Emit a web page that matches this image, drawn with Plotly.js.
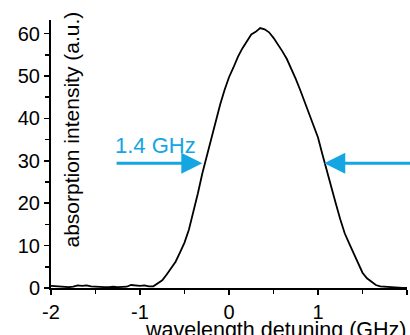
<!DOCTYPE html>
<html>
<head>
<meta charset="utf-8">
<script src="https://cdn.plot.ly/plotly-3.0.1.min.js"></script>
<style>
html,body{margin:0;padding:0;background:#fff;overflow:hidden;}
#chart{width:410px;height:335px;}
</style>
</head>
<body>
<div id="chart"></div>
<script>
// detuning (GHz), step 0.05 from -2 to 2
const detuning = [];
for (let i = 0; i <= 80; i++) detuning.push(Math.round((-2 + i * 0.05) * 100) / 100);
// absorption intensity (a.u.)
const intensity = [
  0.5, 0.4, 0.3, 0.2, 0.2, 0.3, 0.6, 0.5, 0.6, 0.4,
  0.3, 0.2, 0.2, 0.2, 0.3, 0.2, 0.2, 0.3, 0.7, 0.6,
  0.5, 0.6, 0.4, 0.4, 1.2, 1.8, 3.2, 4.7, 6.2, 8.4,
  10.7, 13.8, 17.9, 22.3, 27.0, 31.0, 35.5, 39.5, 43.2, 46.7,
  49.7, 52.0, 54.5, 56.5, 58.3, 59.8, 60.4, 61.3, 61.0, 60.3,
  59.0, 57.5, 55.8, 54.0, 51.8, 49.3, 46.7, 44.0, 41.3, 38.5,
  35.5, 31.5, 27.5, 23.8, 19.9, 16.2, 12.9, 10.5, 8.2, 6.0,
  3.6, 2.3, 1.5, 0.7, 0.4, 0.3, 0.2, 0.1, 0.1, 0.0,
  0.0
];
const xTicks = [-2, -1, 0, 1, 2];
const yTicks = [0, 10, 20, 30, 40, 50, 60];
const fwhmLabel = "1.4 GHz";
const fwhmLeft = -0.30, fwhmRight = 1.07, fwhmLevel = 29.4;

const FONT = "Liberation Sans, Arial, Helvetica, sans-serif";
const BLUE = "#13a6e2";

const trace = {
  x: detuning, y: intensity, type: "scatter", mode: "lines",
  line: {color: "#000", width: 1.8, shape: "linear"},
  hoverinfo: "skip", showlegend: false
};

const layout = {
  width: 410, height: 335,
  margin: {l: 51, r: 3, t: 20, b: 47, pad: 0},
  paper_bgcolor: "#fff", plot_bgcolor: "#fff",
  font: {family: FONT, color: "#000", size: 20},
  xaxis: {
    range: [-2, 2], tickvals: xTicks, ticktext: xTicks.map(String),
    showline: true, linecolor: "#000", linewidth: 2,
    ticks: "outside", ticklen: 5, tickwidth: 1.5, tickcolor: "#000",
    minor: {dtick: 0.5, tick0: 0, ticks: "outside", ticklen: 4, tickwidth: 1.5, tickcolor: "#000"},
    showgrid: false, zeroline: false,
    tickfont: {size: 20, family: FONT, color: "#000"}
  },
  yaxis: {
    range: [0, 63.2], tickvals: yTicks, ticktext: yTicks.map(String),
    showline: true, linecolor: "#000", linewidth: 2,
    ticks: "outside", ticklen: 5, tickwidth: 1.5, tickcolor: "#000",
    minor: {dtick: 5, tick0: 0, ticks: "outside", ticklen: 4, tickwidth: 1.5, tickcolor: "#000"},
    showgrid: false, zeroline: false,
    tickfont: {size: 20, family: FONT, color: "#000"}
  },
  annotations: [
    {text: "absorption intensity (a.u.)", textangle: -90, xref: "paper", yref: "paper",
     x: 0.058, y: 0.59, xanchor: "center", yanchor: "middle", showarrow: false,
     font: {size: 21, family: FONT, color: "#000"}},
    {text: "wavelength detuning (GHz)", xref: "paper", yref: "paper",
     x: 0.633, y: -0.158, xanchor: "center", yanchor: "middle", showarrow: false,
     font: {size: 21.5, family: FONT, color: "#000"}},
    {text: fwhmLabel, xref: "x", yref: "y", x: -0.83, y: 33.7,
     xanchor: "center", yanchor: "middle", showarrow: false,
     font: {size: 22, family: FONT, color: BLUE}},
    {x: fwhmLeft, y: fwhmLevel, ax: -1.28, ay: fwhmLevel, axref: "x", ayref: "y",
     xref: "x", yref: "y", text: "", showarrow: true,
     arrowhead: 2, arrowsize: 1.4, arrowwidth: 3, arrowcolor: BLUE},
    {x: fwhmRight, y: fwhmLevel, ax: 2.1, ay: fwhmLevel, axref: "x", ayref: "y",
     xref: "x", yref: "y", text: "", showarrow: true,
     arrowhead: 2, arrowsize: 1.4, arrowwidth: 3, arrowcolor: BLUE}
  ]
};

Plotly.newPlot("chart", [trace], layout, {displayModeBar: false, staticPlot: true});
</script>
</body>
</html>
